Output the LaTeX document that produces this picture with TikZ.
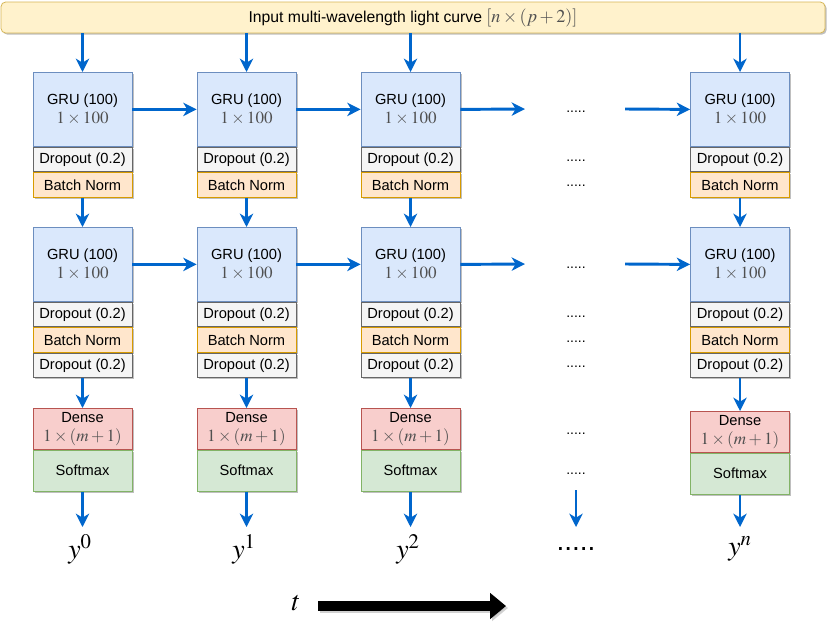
\documentclass[tikz,border=0pt]{standalone}
\usepackage{mathptmx}
\usepackage[no-math]{fontspec}
\setmainfont{Liberation Sans}
\usetikzlibrary{arrows.meta,shadows}
\definecolor{arrblue}{HTML}{0066CC}
\definecolor{grufill}{HTML}{DAE8FC}
\definecolor{grudraw}{HTML}{6C8EBF}
\definecolor{dropfill}{HTML}{F5F5F5}
\definecolor{dropdraw}{HTML}{666666}
\definecolor{bnfill}{HTML}{FFE6CC}
\definecolor{bndraw}{HTML}{D79B00}
\definecolor{densefill}{HTML}{F8CECC}
\definecolor{densedraw}{HTML}{B85450}
\definecolor{smfill}{HTML}{D5E8D4}
\definecolor{smdraw}{HTML}{82B366}
\definecolor{infill}{HTML}{FFF2CC}
\definecolor{indraw}{HTML}{D6B656}
\definecolor{mathgray}{HTML}{505050}
\tikzset{
  shad/.style={drop shadow={shadow xshift=1.2pt, shadow yshift=-1.2pt, opacity=0.25, fill=black}},
  blk/.style={draw, line width=0.6pt, minimum width=74.25pt, inner sep=0pt, align=center,
    font=\fontsize{11}{14}\selectfont, shad, anchor=north},
  grubox/.style={blk, fill=grufill, draw=grudraw, minimum height=55.5pt},
  dropbox/.style={blk, fill=dropfill, draw=dropdraw, minimum height=18.5pt},
  bnbox/.style={blk, fill=bnfill, draw=bndraw, minimum height=18.5pt},
  densebox/.style={blk, fill=densefill, draw=densedraw, minimum height=30.75pt},
  smbox/.style={blk, fill=smfill, draw=smdraw, minimum height=30.75pt},
  banner/.style={draw=indraw, fill=infill, line width=0.6pt, rounded corners=3.5pt,
    minimum width=618pt, minimum height=23.25pt, inner sep=0pt,
    font=\fontsize{11.8}{13}\selectfont, shad},
  arr/.style={draw=arrblue, line width=2.2pt, -{Stealth[length=10pt,width=10pt,inset=3pt]}},
  dotlab/.style={font=\fontsize{10.5}{12}\selectfont, text height=7.5pt, text depth=2pt, inner sep=0pt},
  biglab/.style={font=\fontsize{21}{24}\selectfont, inner sep=1pt},
}
\newcommand{\gm}[1]{{\color{mathgray}\fontsize{12.8}{14}\selectfont$#1$}}
\newcommand{\gbm}[1]{{\color{mathgray}\fontsize{13.6}{14}\selectfont$#1$}}
\begin{document}
\begin{tikzpicture}[x=0.75pt,y=-0.75pt]
\useasboundingbox (0,0) rectangle (830,626);
% banner
\node[banner] (inp) at (413,17.5) {Input multi-wavelength light curve \gbm{[n\times(p+2)]}};
\foreach \c/\x/\dy in {1/82.5/408,2/246.5/408,3/410.5/408,4/740/411}{
  \node[grubox] (ga\c) at (\x,72) {GRU (100)\\ \gm{1\times100}};
  \node[dropbox] (da\c) at (ga\c.south) {Dropout (0.2)};
  \node[bnbox] (ba\c) at (da\c.south) {Batch Norm};
  \node[grubox] (gb\c) at (\x,227) {GRU (100)\\ \gm{1\times100}};
  \node[dropbox] (db\c) at (gb\c.south) {Dropout (0.2)};
  \node[bnbox] (bb\c) at (db\c.south) {Batch Norm};
  \node[dropbox] (dc\c) at (bb\c.south) {Dropout (0.2)};
  \node[densebox] (de\c) at (\x,\dy) {Dense\\ \gm{1\times(m+1)}};
  \node[smbox] (sm\c) at (de\c.south) {Softmax};
  \draw[arr] (inp.south -| ga\c.north) -- (ga\c.north);
  \draw[arr] (ba\c.south) -- (gb\c.north);
  \draw[arr] (dc\c.south) -- (de\c.north);
}
% outputs
\node[biglab] (y1) at (80,549) {$y^0$};
\node[biglab] (y2) at (244,549) {$y^1$};
\node[biglab] (y3) at (408,549) {$y^2$};
\node[biglab] (y4) at (740,549) {$y^n$};
\foreach \c in {1,2,3,4}{
  \draw[arr] (sm\c.south) -- (sm\c.south |- 0,527);
}
% horizontal arrows
\draw[arr] (ga1.east) -- (ga2.west);
\draw[arr] (ga2.east) -- (ga3.west);
\draw[arr] (gb1.east) -- (gb2.west);
\draw[arr] (gb2.east) -- (gb3.west);
\coordinate (ea) at (525,109);
\coordinate (sa) at (625,109);
\coordinate (eb) at (525,264);
\coordinate (sb) at (625,264);
\draw[arr] (ga3.east) -- (ea);
\draw[arr] (sa) -- (ga4.west);
\draw[arr] (gb3.east) -- (eb);
\draw[arr] (sb) -- (gb4.west);
% dots column
\node[dotlab] (p1) at (576,109) {.....};
\node[dotlab] (p2) at (576,158) {.....};
\node[dotlab] (p3) at (576,182.5) {.....};
\node[dotlab] (p4) at (576,265) {.....};
\node[dotlab] (p5) at (576,314) {.....};
\node[dotlab] (p6) at (576,339) {.....};
\node[dotlab] (p7) at (576,363.5) {.....};
\node[dotlab] (p8) at (576,431) {.....};
\node[dotlab] (p9) at (576,471) {.....};
\coordinate (ds) at (576,490);
\coordinate (de) at (576,527);
\draw[arr] (ds) -- (de);
\node[biglab] (pb) at (576,549) {.....};
% time arrow
\node[biglab] (t) at (296,603) {$t$};
\coordinate (ts) at (318,606);
\coordinate (te) at (506,606);
\draw[gray!60, line width=6.8pt, -{Triangle[length=12pt,width=19pt]}, opacity=0.6] ([shift={(2,2)}]ts) -- ([shift={(2,2)}]te);
\draw[black, line width=6.8pt, -{Triangle[length=12pt,width=19pt]}] (ts) -- (te);
\end{tikzpicture}
\end{document}
